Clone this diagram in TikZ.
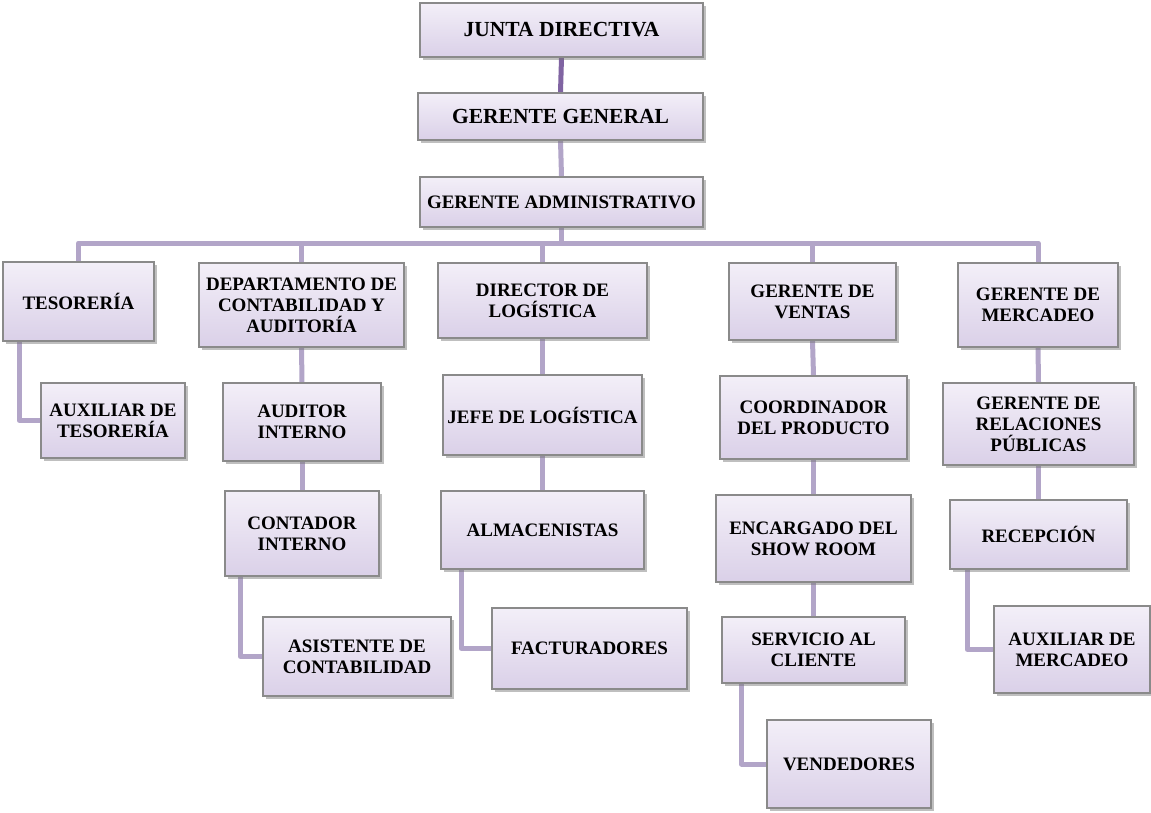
\documentclass[tikz,border=0pt]{standalone}
\usepackage{fontspec}
\setmainfont{Liberation Serif}
\usetikzlibrary{shadows,backgrounds}

\definecolor{boxtop}{HTML}{F3EFF8}
\definecolor{boxbot}{HTML}{DAD0E8}
\definecolor{boxline}{HTML}{8A8A8A}
\definecolor{linklav}{HTML}{B2A5C8}
\definecolor{linkdark}{HTML}{8064A2}

\tikzset{
  orgbox/.style={rectangle, draw=boxline, line width=1.3pt,
    top color=boxtop, bottom color=boxbot,
    drop shadow={shadow xshift=2.5pt, shadow yshift=-2.5pt, opacity=0.45, fill=black!55},
    align=center, inner sep=2pt, text=black,
    font=\bfseries\fontsize{19}{21}\selectfont},
  bigbox/.style={orgbox, font=\bfseries\fontsize{21.5}{24}\selectfont},
  link/.style={draw=linklav, line width=5pt, line join=round},
  toplink/.style={link, draw=linkdark},
}

\begin{document}
\begin{tikzpicture}[x=1pt, y=-1pt]
\useasboundingbox (0,0) rectangle (1151,812);

% top of the chart
\node[bigbox, minimum width=283pt, minimum height=54pt] (junta) at (561.5,30) {JUNTA DIRECTIVA};
\node[bigbox, minimum width=285pt, minimum height=47pt] (gg) at (560.5,116.5) {GERENTE GENERAL};
\node[orgbox, minimum width=283pt, minimum height=50pt] (ga) at (561.5,202) {GERENTE ADMINISTRATIVO};

% first level of departments
\node[orgbox, minimum width=151pt, minimum height=79pt] (teso) at (78.5,301.5) {TESORERÍA};
\node[orgbox, minimum width=205pt, minimum height=84pt] (depto) at (301.5,305) {DEPARTAMENTO DE\\CONTABILIDAD Y\\AUDITORÍA};
\node[orgbox, minimum width=209pt, minimum height=75pt] (dirlog) at (542.5,300.5) {DIRECTOR DE\\LOGÍSTICA};
\node[orgbox, minimum width=167pt, minimum height=77pt] (ventas) at (812.5,301.5) {GERENTE DE\\VENTAS};
\node[orgbox, minimum width=160pt, minimum height=84pt] (mercadeo) at (1038,305) {GERENTE DE\\MERCADEO};

% treasury branch
\node[orgbox, minimum width=144pt, minimum height=75pt] (auxteso) at (113,420.5) {AUXILIAR DE\\TESORERÍA};

% accounting branch
\node[orgbox, minimum width=158pt, minimum height=78pt] (auditor) at (302,422) {AUDITOR\\INTERNO};
\node[orgbox, minimum width=154pt, minimum height=85pt] (contador) at (302,533.5) {CONTADOR\\INTERNO};
\node[orgbox, minimum width=188pt, minimum height=79pt] (asistente) at (357,656.5) {ASISTENTE DE\\CONTABILIDAD};

% logistics branch
\node[orgbox, minimum width=199pt, minimum height=80pt] (jefe) at (542.5,415) {JEFE DE LOGÍSTICA};
\node[orgbox, minimum width=203pt, minimum height=78pt] (almacen) at (542.5,530) {ALMACENISTAS};
\node[orgbox, minimum width=195pt, minimum height=81pt] (factur) at (589.5,648.5) {FACTURADORES};

% sales branch
\node[orgbox, minimum width=187pt, minimum height=83pt] (coord) at (813.5,417.5) {COORDINADOR\\DEL PRODUCTO};
\node[orgbox, minimum width=195pt, minimum height=87pt] (encargado) at (813.5,538.5) {ENCARGADO DEL\\SHOW ROOM};
\node[orgbox, minimum width=183pt, minimum height=66pt] (servicio) at (813.5,650) {SERVICIO AL\\CLIENTE};
\node[orgbox, minimum width=164pt, minimum height=88pt] (vendedores) at (849,764) {VENDEDORES};

% marketing branch
\node[orgbox, minimum width=191pt, minimum height=82pt] (relaciones) at (1038.5,424) {GERENTE DE\\RELACIONES\\PÚBLICAS};
\node[orgbox, minimum width=177pt, minimum height=69pt] (recepcion) at (1038.5,534.5) {RECEPCIÓN};
\node[orgbox, minimum width=156pt, minimum height=87pt] (auxmerc) at (1072,649.5) {AUXILIAR DE\\MERCADEO};

% white page and connectors, kept behind the boxes
\begin{scope}[on background layer]
  \fill[white] (0,0) rectangle (1151,812);
  \coordinate (bus) at (0,243);
  \draw[toplink] (junta.south) -- (gg.north);
  \draw[link] (gg.south) -- (ga.north);
  \draw[link] (ga.south) -- (ga.south |- bus);
  \draw[link] (teso.north) -- (teso.north |- bus) -- (mercadeo.north |- bus) -- (mercadeo.north);
  \draw[link] (depto.north) -- (depto.north |- bus);
  \draw[link] (dirlog.north) -- (dirlog.north |- bus);
  \draw[link] (ventas.north) -- (ventas.north |- bus);

  \draw[link] (teso.south west) ++(17,0) |- (auxteso.west);

  \draw[link] (depto.south) -- (auditor.north);
  \draw[link] (auditor.south) -- (contador.north);
  \draw[link] (contador.south west) ++(16,0) |- (asistente.west);

  \draw[link] (dirlog.south) -- (jefe.north);
  \draw[link] (jefe.south) -- (almacen.north);
  \draw[link] (almacen.south west) ++(21,0) |- (factur.west);

  \draw[link] (ventas.south) -- (coord.north);
  \draw[link] (coord.south) -- (encargado.north);
  \draw[link] (encargado.south) -- (servicio.north);
  \draw[link] (servicio.south west) ++(20,0) |- (vendedores.west);

  \draw[link] (mercadeo.south) -- (relaciones.north);
  \draw[link] (relaciones.south) -- (recepcion.north);
  \draw[link] (recepcion.south west) ++(18,0) |- (auxmerc.west);
\end{scope}
\end{tikzpicture}
\end{document}
